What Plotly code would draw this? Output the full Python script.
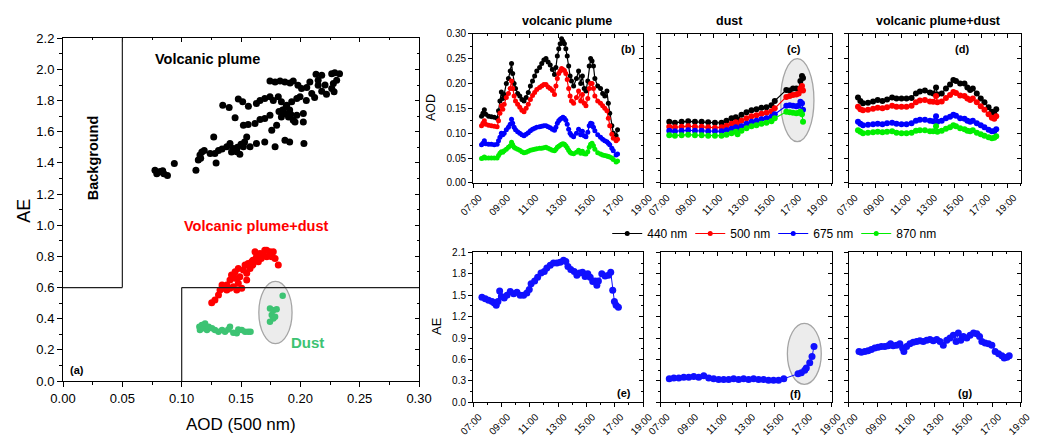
import plotly.graph_objects as go

FONT = "Liberation Sans, Arial, sans-serif"

# ---------------- panel (a): AE vs AOD(500 nm) ----------------
vp_aod = [0.0775, 0.079, 0.082, 0.085, 0.088, 0.0805, 0.084, 0.0938, 0.112, 0.114,
          0.1154, 0.117, 0.119, 0.116, 0.124, 0.128, 0.129, 0.127, 0.131, 0.134,
          0.138, 0.1407, 0.1435, 0.1464, 0.149, 0.152, 0.1548, 0.153, 0.1576, 0.163,
          0.170, 0.1787, 0.187, 0.191, 0.203, 0.145, 0.147, 0.142, 0.150,
          0.145, 0.152, 0.156, 0.1618, 0.166, 0.170, 0.1744, 0.1759, 0.180, 0.184,
          0.187, 0.190, 0.194, 0.197, 0.2025, 0.2025, 0.1955, 0.185, 0.188, 0.191,
          0.186, 0.192, 0.182,
          0.1346, 0.140, 0.1477, 0.1514, 0.1562, 0.163, 0.166, 0.170, 0.1744, 0.1772,
          0.1814, 0.184, 0.1885, 0.1927, 0.197, 0.1997,
          0.1744, 0.1787, 0.1829, 0.187, 0.1913, 0.194, 0.198, 0.201, 0.2054, 0.208,
          0.2096, 0.2132, 0.215,
          0.2264, 0.229, 0.233, 0.2306, 0.2278, 0.2264, 0.2284, 0.218, 0.2208, 0.215,
          0.212, 0.218, 0.222, 0.205]
vp_ae = [1.353, 1.33, 1.345, 1.33, 1.32, 1.34, 1.35, 1.396, 1.353, 1.418,
         1.45, 1.47, 1.48, 1.43, 1.46, 1.46, 1.40, 1.567, 1.48, 1.49,
         1.503, 1.525, 1.492, 1.471, 1.456, 1.503, 1.567, 1.535, 1.503, 1.525,
         1.535, 1.503, 1.546, 1.535, 1.525, 1.48, 1.50, 1.47, 1.52,
         1.69, 1.642, 1.646, 1.653, 1.678, 1.685, 1.706, 1.61, 1.642, 1.695,
         1.717, 1.695, 1.674, 1.706, 1.717, 1.663, 1.663, 1.74, 1.76, 1.74,
         1.72, 1.71, 1.73,
         1.77, 1.755, 1.81, 1.792, 1.764, 1.781, 1.80, 1.813, 1.824, 1.80,
         1.824, 1.792, 1.77, 1.792, 1.813, 1.824,
         1.926, 1.92, 1.926, 1.92, 1.913, 1.926, 1.899, 1.877, 1.884, 1.92,
         1.845, 1.969, 1.899,
         1.973, 1.978, 1.973, 1.93, 1.909, 1.877, 1.856, 1.963, 1.90, 1.93,
         1.82, 1.86, 1.84, 1.80]

vpd_aod = [0.1253, 0.128, 0.131, 0.1323, 0.135, 0.138, 0.1407, 0.142, 0.1435, 0.145,
           0.1464, 0.1477, 0.149, 0.1506, 0.152, 0.1534, 0.1548, 0.156, 0.1576, 0.159,
           0.160, 0.1618, 0.163, 0.1646, 0.166, 0.1688, 0.170, 0.1716, 0.1744, 0.1759,
           0.1772, 0.1787, 0.1814, 0.145, 0.1407, 0.1477, 0.1548, 0.160, 0.167, 0.1716,
           0.138, 0.134]
vpd_ae = [0.502, 0.52, 0.552, 0.584, 0.595, 0.616, 0.648, 0.68, 0.605, 0.701,
          0.584, 0.723, 0.669, 0.595, 0.712, 0.744, 0.691, 0.755, 0.723, 0.765,
          0.744, 0.829, 0.797, 0.765, 0.818, 0.808, 0.84, 0.797, 0.829, 0.797,
          0.829, 0.787, 0.744, 0.659, 0.595, 0.627, 0.648, 0.776, 0.786, 0.84,
          0.584, 0.616]

dust_aod = [0.1149, 0.1154, 0.117, 0.1185, 0.1197, 0.1213, 0.1227, 0.1255, 0.128, 0.131,
            0.134, 0.1365, 0.1393, 0.1407, 0.1435, 0.1464, 0.1477, 0.1506, 0.1534, 0.156,
            0.158, 0.1744, 0.1772, 0.180, 0.1759, 0.1772, 0.1744, 0.1787, 0.1851]
dust_ae = [0.348, 0.327, 0.359, 0.338, 0.37, 0.327, 0.348, 0.338, 0.327, 0.316,
           0.327, 0.316, 0.33, 0.348, 0.31, 0.306, 0.33, 0.327, 0.316, 0.316,
           0.316, 0.466, 0.455, 0.46, 0.423, 0.402, 0.38, 0.412, 0.547]

# ---------------- panel (b): volcanic plume AOD ----------------
b_time = [7.6, 7.7, 7.8, 7.9, 8.1, 8.3, 8.5, 8.7, 8.8, 8.9,
          9.0, 9.1, 9.2, 9.35, 9.5, 9.62, 9.72, 9.8, 9.9, 10.0,
          10.15, 10.3, 10.45, 10.6, 10.75, 10.9, 11.05, 11.2, 11.35, 11.5,
          11.7, 11.85, 12.0, 12.15, 12.3, 12.45, 12.6, 12.75, 12.85, 12.95,
          13.05, 13.15, 13.25, 13.35, 13.45, 13.55, 13.65, 13.75, 13.85, 13.95,
          14.1, 14.3, 14.45, 14.6, 14.72, 14.85, 14.97, 15.1, 15.2, 15.3,
          15.4, 15.5, 15.6, 15.8, 16.0, 16.15, 16.3, 16.45, 16.55, 16.65,
          16.8, 16.9, 17.1, 17.2]
b_440 = [0.134, 0.14, 0.147, 0.138, 0.134, 0.133, 0.132, 0.13, 0.145, 0.165,
         0.183, 0.17, 0.178, 0.2, 0.21, 0.225, 0.24, 0.22, 0.2, 0.19,
         0.18, 0.175, 0.168, 0.165, 0.172, 0.182, 0.195, 0.205, 0.215, 0.225,
         0.232, 0.24, 0.247, 0.25, 0.243, 0.237, 0.228, 0.218, 0.232, 0.255,
         0.27, 0.28, 0.29, 0.285, 0.28, 0.27, 0.255, 0.235, 0.215, 0.205,
         0.195, 0.21, 0.225, 0.2, 0.215, 0.19, 0.185, 0.205, 0.235, 0.25,
         0.245, 0.235, 0.21, 0.195, 0.19, 0.18, 0.175, 0.185, 0.16, 0.14,
         0.115, 0.1, 0.095, 0.107]
b_500 = [0.115, 0.12, 0.125, 0.118, 0.116, 0.115, 0.114, 0.113, 0.125, 0.14,
         0.155, 0.148, 0.158, 0.172, 0.18, 0.19, 0.205, 0.19, 0.175, 0.165,
         0.158, 0.152, 0.146, 0.143, 0.15, 0.158, 0.168, 0.176, 0.182, 0.188,
         0.192, 0.195, 0.198, 0.198, 0.193, 0.19, 0.186, 0.178, 0.195, 0.21,
         0.22, 0.225, 0.23, 0.228, 0.226, 0.22, 0.208, 0.19, 0.175, 0.165,
         0.16, 0.172, 0.185, 0.165, 0.178, 0.16, 0.155, 0.17, 0.19, 0.2,
         0.2, 0.19, 0.175, 0.165, 0.16, 0.155, 0.15, 0.145, 0.13, 0.115,
         0.098, 0.09, 0.085, 0.088]
b_675 = [0.077, 0.08, 0.085, 0.079, 0.078, 0.078, 0.077, 0.078, 0.085, 0.092,
         0.1, 0.097, 0.1, 0.107, 0.112, 0.118, 0.128, 0.12, 0.112, 0.107,
         0.103, 0.1, 0.097, 0.095, 0.098, 0.101, 0.105, 0.108, 0.11, 0.112,
         0.113, 0.114, 0.115, 0.115, 0.113, 0.111, 0.108, 0.106, 0.112, 0.12,
         0.125, 0.128, 0.13, 0.132, 0.13, 0.126, 0.118, 0.108, 0.1, 0.096,
         0.093, 0.1, 0.108, 0.097, 0.104, 0.095, 0.093, 0.102, 0.115, 0.12,
         0.119, 0.112, 0.105, 0.097, 0.092, 0.088, 0.085, 0.083, 0.08, 0.077,
         0.07, 0.065, 0.056, 0.058]
b_870 = [0.049, 0.05, 0.052, 0.05, 0.05, 0.05, 0.05, 0.05, 0.055, 0.06,
         0.063, 0.062, 0.065, 0.068, 0.072, 0.075, 0.082, 0.077, 0.072, 0.07,
         0.068, 0.066, 0.063, 0.061, 0.062, 0.064, 0.066, 0.067, 0.068, 0.069,
         0.07, 0.07, 0.071, 0.072, 0.07, 0.068, 0.066, 0.065, 0.068, 0.072,
         0.074, 0.076, 0.078, 0.079, 0.078, 0.075, 0.071, 0.066, 0.062, 0.06,
         0.059, 0.062, 0.066, 0.06, 0.064, 0.059, 0.058, 0.063, 0.072, 0.078,
         0.08, 0.075, 0.068, 0.061, 0.058, 0.056, 0.055, 0.054, 0.053, 0.052,
         0.05, 0.047, 0.042, 0.044]

# ---------------- panel (c): dust AOD ----------------
c_time = [7.63, 8.06, 8.57, 9.07, 9.58, 10.09, 10.59, 11.1, 11.6, 11.98,
          12.36, 12.69, 12.82, 13.12, 13.5, 13.88, 14.26, 14.64, 15.02, 15.4,
          15.65, 16.53, 16.79, 17.04, 17.29, 17.47, 17.6, 17.72, 17.8]
c_440 = [0.123, 0.121, 0.123, 0.124, 0.123, 0.123, 0.122, 0.121, 0.121, 0.125,
         0.13, 0.132, 0.127, 0.137, 0.142, 0.146, 0.148, 0.151, 0.152, 0.156,
         0.165, 0.187, 0.186, 0.19, 0.19, 0.189, 0.205, 0.215, 0.211]
c_500 = [0.113, 0.112, 0.113, 0.114, 0.113, 0.113, 0.112, 0.111, 0.112, 0.115,
         0.119, 0.122, 0.117, 0.125, 0.13, 0.134, 0.136, 0.139, 0.141, 0.144,
         0.15, 0.173, 0.175, 0.177, 0.178, 0.18, 0.19, 0.195, 0.186]
c_675 = [0.105, 0.104, 0.105, 0.106, 0.105, 0.105, 0.104, 0.104, 0.104, 0.106,
         0.109, 0.112, 0.107, 0.114, 0.119, 0.123, 0.125, 0.128, 0.13, 0.133,
         0.138, 0.155, 0.156, 0.155, 0.154, 0.155, 0.163, 0.16, 0.147]
c_870 = [0.096, 0.095, 0.096, 0.097, 0.096, 0.096, 0.095, 0.095, 0.095, 0.097,
         0.1, 0.103, 0.098, 0.105, 0.11, 0.114, 0.116, 0.119, 0.121, 0.124,
         0.13, 0.143, 0.142, 0.141, 0.14, 0.141, 0.143, 0.138, 0.123]

# ---------------- panel (d): volcanic plume + dust AOD ----------------
d_time = [7.68, 7.86, 8.06, 8.44, 8.82, 9.17, 9.53, 9.88, 10.26, 10.59,
          10.97, 11.35, 11.73, 12.06, 12.36, 12.74, 13.12, 13.37, 13.58, 13.68,
          14.01, 14.33, 14.64, 14.89, 15.09, 15.4, 15.73, 15.95, 16.16, 16.36,
          16.66, 16.96, 17.24, 17.55, 17.8, 17.98, 18.13]
d_440 = [0.172, 0.165, 0.16, 0.161, 0.164, 0.167, 0.165, 0.168, 0.172, 0.17,
         0.17, 0.17, 0.171, 0.18, 0.184, 0.186, 0.182, 0.18, 0.192, 0.178,
         0.18, 0.19, 0.198, 0.207, 0.205, 0.2, 0.2, 0.192, 0.187, 0.19,
         0.18, 0.17, 0.162, 0.152, 0.143, 0.14, 0.148]
d_500 = [0.153, 0.148, 0.146, 0.147, 0.149, 0.151, 0.15, 0.152, 0.155, 0.153,
         0.153, 0.153, 0.155, 0.162, 0.166, 0.167, 0.164, 0.163, 0.175, 0.162,
         0.164, 0.171, 0.177, 0.183, 0.181, 0.176, 0.175, 0.17, 0.167, 0.17,
         0.162, 0.154, 0.147, 0.138, 0.131, 0.129, 0.134]
d_675 = [0.123, 0.119, 0.116, 0.117, 0.118, 0.119, 0.118, 0.12, 0.121, 0.119,
         0.118, 0.118, 0.12, 0.125, 0.127, 0.127, 0.125, 0.124, 0.134, 0.123,
         0.125, 0.13, 0.133, 0.137, 0.135, 0.13, 0.129, 0.125, 0.123, 0.125,
         0.12, 0.116, 0.112, 0.107, 0.104, 0.104, 0.108]
d_870 = [0.106, 0.103, 0.1, 0.101, 0.102, 0.103, 0.102, 0.103, 0.104, 0.101,
         0.1, 0.1, 0.101, 0.105, 0.106, 0.106, 0.104, 0.104, 0.114, 0.103,
         0.105, 0.109, 0.112, 0.116, 0.114, 0.11, 0.108, 0.105, 0.104, 0.106,
         0.101, 0.098, 0.095, 0.092, 0.09, 0.091, 0.094]

# ---------------- panels (e)-(g): Angstrom exponent ----------------
e_time = [7.63, 7.87, 8.1, 8.34, 8.5, 8.64, 8.76, 8.88, 9.0, 9.2,
          9.4, 9.63, 9.87, 10.1, 10.33, 10.57, 10.8, 10.97, 11.1, 11.35,
          11.56, 11.8, 12.03, 12.21, 12.45, 12.68, 12.92, 13.15, 13.39, 13.55,
          13.7, 13.9, 14.14, 14.33, 14.52, 14.73, 14.91, 15.1, 15.27, 15.45,
          15.62, 15.74, 15.85, 16.09, 16.32, 16.56, 16.72, 16.86, 16.98, 17.1,
          17.26]
e_ae = [1.47, 1.45, 1.43, 1.41, 1.39, 1.36, 1.41, 1.56, 1.48, 1.46,
        1.5, 1.55, 1.52, 1.54, 1.5, 1.5, 1.53, 1.58, 1.66, 1.7,
        1.75, 1.81, 1.83, 1.88, 1.92, 1.95, 1.95, 1.96, 1.99, 1.97,
        1.9, 1.86, 1.83, 1.78, 1.81, 1.82, 1.76, 1.8, 1.75, 1.69,
        1.7, 1.64, 1.7, 1.8, 1.77, 1.78, 1.82, 1.57, 1.41, 1.36,
        1.33]

f_time = [7.58, 7.9, 8.25, 8.6, 8.95, 9.3, 9.65, 10.0, 10.35, 10.7,
          11.05, 11.4, 11.75, 12.1, 12.45, 12.8, 13.15, 13.5, 13.85, 14.2,
          14.55, 14.9, 15.25, 15.62, 16.62, 16.85, 17.09, 17.2, 17.44, 17.6,
          17.74]
f_ae = [0.33, 0.34, 0.34, 0.35, 0.35, 0.36, 0.35, 0.37, 0.34, 0.33,
        0.32, 0.32, 0.32, 0.33, 0.32, 0.33, 0.32, 0.33, 0.32, 0.32,
        0.31, 0.31, 0.31, 0.33, 0.4, 0.415, 0.45, 0.48, 0.555, 0.64,
        0.78]

g_time = [7.7, 7.86, 8.1, 8.33, 8.56, 8.8, 9.03, 9.26, 9.5, 9.73,
          9.9, 10.08, 10.32, 10.55, 10.74, 10.83, 11.02, 11.25, 11.48, 11.72,
          11.95, 12.18, 12.42, 12.65, 12.88, 13.12, 13.35, 13.58, 13.82, 14.05,
          14.28, 14.47, 14.63, 14.8, 14.98, 15.22, 15.45, 15.69, 15.92, 16.11,
          16.27, 16.5, 16.74, 16.97, 17.2, 17.44, 17.67, 17.83, 18.02, 18.18]
g_ae = [0.71, 0.7, 0.71, 0.72, 0.74, 0.76, 0.77, 0.78, 0.78, 0.79,
        0.82, 0.79, 0.8, 0.82, 0.76, 0.71, 0.78, 0.82, 0.84, 0.85,
        0.86, 0.85, 0.87, 0.88, 0.86, 0.88, 0.85, 0.8, 0.87, 0.9,
        0.94, 0.85, 0.97, 0.87, 0.92, 0.9, 0.94, 0.97, 0.96, 0.92,
        0.85, 0.83, 0.82, 0.8, 0.71, 0.68, 0.65, 0.62, 0.63, 0.65]

wavelengths = ["440 nm", "500 nm", "675 nm", "870 nm"]
wl_colors = ["#000000", "#FF0000", "#0000FF", "#00EE00"]
hour_ticks = list(range(7, 20, 2))
hour_labels = [f"{h:02d}:00" for h in hour_ticks]
panel_titles = ["volcanic plume", "dust", "volcanic plume+dust"]

# classification thresholds drawn in panel (a)
BG_AOD_MAX = 0.05
AE_SPLIT = 0.6
DUST_AOD_MIN = 0.10

# layout geometry (paper fractions)
X_A = [0.0607, 0.4037]
Y_A = [0.1261, 0.9122]
X_COLS = [[0.4557, 0.6195], [0.6368, 0.8015], [0.8179, 0.9836]]
Y_TOP = [0.5803, 0.9227]
Y_BOT = [0.0773, 0.4213]
X_RANGES = [[7, 19], [7, 20], [7, 20], [7, 19], [7, 19], [7, 19]]

fig = go.Figure()

# panel (a) scatter
fig.add_trace(go.Scatter(x=vp_aod, y=vp_ae, mode="markers", xaxis="x", yaxis="y",
                         marker=dict(color="#000000", size=7), showlegend=False))
fig.add_trace(go.Scatter(x=vpd_aod, y=vpd_ae, mode="markers", xaxis="x", yaxis="y",
                         marker=dict(color="#FF0000", size=7), showlegend=False))
fig.add_trace(go.Scatter(x=dust_aod, y=dust_ae, mode="markers", xaxis="x", yaxis="y",
                         marker=dict(color="#3DC373", size=6.5), showlegend=False))

# AOD time series panels (b), (c), (d)
aod_sets = [
    (b_time, [b_440, b_500, b_675, b_870], 5),
    (c_time, [c_440, c_500, c_675, c_870], 6),
    (d_time, [d_440, d_500, d_675, d_870], 6),
]
for i, (t, series, msize) in enumerate(aod_sets):
    ax = str(i + 2)
    for name, col, vals in zip(wavelengths, wl_colors, series):
        fig.add_trace(go.Scatter(
            x=t, y=vals, mode="lines+markers", name=name, legendgroup=name,
            showlegend=(i == 0), xaxis="x" + ax, yaxis="y" + ax,
            line=dict(color=col, width=1.2), marker=dict(color=col, size=msize)))

# AE panels (e), (f), (g)
ae_sets = [(e_time, e_ae), (f_time, f_ae), (g_time, g_ae)]
for i, (t, vals) in enumerate(ae_sets):
    ax = str(i + 5)
    fig.add_trace(go.Scatter(x=t, y=vals, mode="lines+markers", showlegend=False,
                             xaxis="x" + ax, yaxis="y" + ax,
                             line=dict(color="#1010FF", width=1),
                             marker=dict(color="#1010FF", size=7)))

tick_font = dict(family=FONT, size=10, color="black")


def main_axis(**kw):
    d = dict(showline=True, linecolor="black", linewidth=1, mirror=True,
             ticks="outside", ticklen=4, tickwidth=1, tickcolor="black",
             showgrid=False, zeroline=False, tickfont=tick_font, automargin=False)
    d.update(kw)
    return d


def inner_axis(overlay, side, anchor, rng, major, minor):
    return dict(overlaying=overlay, side=side, anchor=anchor, range=rng,
                showticklabels=False, showline=False, showgrid=False, zeroline=False,
                automargin=False,
                ticks="inside", ticklen=4, tickwidth=1, tickcolor="black",
                tickmode="array", tickvals=major,
                minor=dict(ticks="inside", ticklen=2, tickcolor="black",
                           tickmode="array", tickvals=minor, showgrid=False))


def frange(a, b, step):
    n = int(round((b - a) / step))
    return [round(a + k * step, 6) for k in range(n + 1)]


layout = {}
# panel (a) axes
a_xmaj, a_xmin = frange(0, 0.3, 0.05), frange(0, 0.3, 0.025)
a_ymaj, a_ymin = frange(0, 2.2, 0.2), frange(0, 2.2, 0.1)
layout["xaxis"] = main_axis(domain=X_A, anchor="y", range=[0, 0.3], tickmode="array",
                            tickvals=a_xmaj, ticktext=[f"{v:.2f}" for v in a_xmaj],
                            ticklen=5, tickfont=dict(family=FONT, size=13, color="black"),
                            minor=dict(ticks="outside", ticklen=3, tickmode="array",
                                       tickvals=a_xmin, tickcolor="black"))
layout["yaxis"] = main_axis(domain=Y_A, anchor="x", range=[0, 2.2], tickmode="array",
                            tickvals=a_ymaj, ticktext=[f"{v:.1f}" for v in a_ymaj],
                            ticklen=5, tickfont=dict(family=FONT, size=13, color="black"),
                            minor=dict(ticks="outside", ticklen=3, tickmode="array",
                                       tickvals=a_ymin, tickcolor="black"))
layout["xaxis8"] = inner_axis("x", "top", "y", [0, 0.3], a_xmaj, a_xmin)
layout["yaxis8"] = inner_axis("y", "right", "x", [0, 2.2], a_ymaj, a_ymin)

aod_maj, aod_min = frange(0, 0.3, 0.05), frange(0, 0.3, 0.025)
ae_maj, ae_min = frange(0, 2.1, 0.3), frange(0, 2.1, 0.15)
for k in range(6):
    n = k + 2
    col = k % 3
    top = k < 3
    xr = X_RANGES[k]
    xmin_vals = list(range(xr[0], xr[1] + 1))
    ymaj, ymin = (aod_maj, aod_min) if top else (ae_maj, ae_min)
    yrng = [0, 0.3] if top else [0, 2.1]
    yfmt = "{:.2f}" if top else "{:.1f}"
    layout[f"xaxis{n}"] = main_axis(
        domain=X_COLS[col], anchor=f"y{n}", range=xr, tickmode="array",
        tickvals=hour_ticks, ticktext=hour_labels, tickangle=-45, ticklabelshift=6,
        minor=dict(ticks="outside", ticklen=2, tickmode="array",
                   tickvals=xmin_vals, tickcolor="black"))
    layout[f"yaxis{n}"] = main_axis(
        domain=Y_TOP if top else Y_BOT, anchor=f"x{n}", range=yrng, tickmode="array",
        tickvals=ymaj, ticktext=[yfmt.format(v) for v in ymaj],
        showticklabels=(col == 0),
        minor=dict(ticks="outside", ticklen=2, tickmode="array",
                   tickvals=ymin, tickcolor="black"))
    layout[f"xaxis{n + 7}"] = inner_axis(f"x{n}", "top", f"y{n}", xr, hour_ticks, xmin_vals)
    layout[f"yaxis{n + 7}"] = inner_axis(f"y{n}", "right", f"x{n}", yrng, ymaj, ymin)

# empty traces so the inner-tick overlay axes get drawn
for n in range(1, 8):
    fig.add_trace(go.Scatter(x=[], y=[], xaxis=f"x{n + 7}", yaxis=f"y{n + 7}",
                             showlegend=False, hoverinfo="skip"))

shapes = []
line_style = dict(color="#202020", width=1.2)
shapes.append(dict(type="line", xref="x", yref="y", x0=BG_AOD_MAX, x1=BG_AOD_MAX,
                   y0=AE_SPLIT, y1=2.2, line=line_style))
shapes.append(dict(type="line", xref="x", yref="y", x0=0, x1=BG_AOD_MAX,
                   y0=AE_SPLIT, y1=AE_SPLIT, line=line_style))
shapes.append(dict(type="line", xref="x", yref="y", x0=DUST_AOD_MIN, x1=DUST_AOD_MIN,
                   y0=0, y1=AE_SPLIT, line=line_style))
shapes.append(dict(type="line", xref="x", yref="y", x0=DUST_AOD_MIN, x1=0.3,
                   y0=AE_SPLIT, y1=AE_SPLIT, line=line_style))
ell = dict(type="circle", layer="below", fillcolor="#ECECEC",
           line=dict(color="#A5A5A5", width=1.3))
shapes.append(dict(ell, xref="x", yref="y", x0=0.165, x1=0.193, y0=0.24, y1=0.64))
shapes.append(dict(ell, xref="x3", yref="y3", x0=16.1, x1=18.63, y0=0.083, y1=0.25))
shapes.append(dict(ell, xref="x6", yref="y6", x0=15.87, x1=18.25, y0=0.252, y1=1.106))

annotations = []


def txt(text, x, y, xref="paper", yref="paper", size=12, bold=False, color="black", angle=0):
    annotations.append(dict(
        text=f"<b>{text}</b>" if bold else text, x=x, y=y, xref=xref, yref=yref,
        showarrow=False, textangle=angle, xanchor="center", yanchor="middle",
        font=dict(family=FONT, size=size, color=color)))


# panel (a) labels
txt("Volcanic plume", 0.122, 2.07, "x", "y", 14.5, True)
txt("Background", 0.0253, 1.43, "x", "y", 14.5, True, angle=-90)
txt("Volcanic plume+dust", 0.163, 0.995, "x", "y", 14.5, True, "#FF0000")
txt("Dust", 0.206, 0.25, "x", "y", 15, True, "#3DC373")
txt("(a)", 0.0118, 0.07, "x", "y", 11, True)
txt("AE", 0.0236, 0.518, size=18, angle=-90)
txt("AOD (500 nm)", 0.2322, 0.0275, size=17)

# subplot titles and axis labels
for title, xc in zip(panel_titles, [0.546, 0.703, 0.904]):
    txt(title, xc, 0.952, size=12.5, bold=True)
txt("AOD", 0.4152, 0.7546, size=12.5, angle=-90)
txt("AE", 0.421, 0.2523, size=13, angle=-90)

# panel tags
txt("(b)", 17.97, 0.27, "x2", "y2", 11, True)
txt("(c)", 17.12, 0.269, "x3", "y3", 11, True)
txt("(d)", 15.52, 0.27, "x4", "y4", 11, True)
txt("(e)", 17.66, 0.126, "x5", "y5", 11, True)
txt("(f)", 16.43, 0.117, "x6", "y6", 11, True)
txt("(g)", 15.1, 0.126, "x7", "y7", 11, True)

layout.update(
    template="none",
    width=1038, height=436,
    margin=dict(l=0, r=0, t=0, b=0, pad=0),
    paper_bgcolor="white", plot_bgcolor="white",
    font=dict(family=FONT, color="black"),
    shapes=shapes, annotations=annotations,
    showlegend=True,
    legend=dict(orientation="h", x=0.585, y=0.4645, xanchor="left", yanchor="middle",
                font=dict(family=FONT, size=12, color="black"),
                bgcolor="rgba(0,0,0,0)", borderwidth=0, itemwidth=30,
                entrywidth=38, entrywidthmode="pixels", tracegroupgap=0),
)
fig.update_layout(layout)
fig.write_html("out.html")
